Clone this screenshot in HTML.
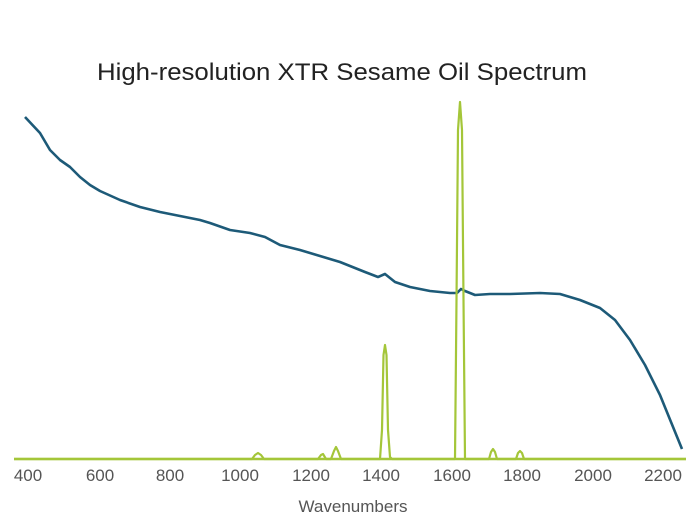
<!DOCTYPE html>
<html><head><meta charset="utf-8"><style>
html,body{margin:0;padding:0;background:#fff;}
svg{display:block;}
text{font-family:"Liberation Sans",sans-serif;}
</style></head><body>
<svg width="700" height="532" viewBox="0 0 700 532" xmlns="http://www.w3.org/2000/svg">
<rect width="700" height="532" fill="#fff"/>
<text x="342" y="80" font-size="24" fill="#222" text-anchor="middle" textLength="490" lengthAdjust="spacingAndGlyphs">High-resolution XTR Sesame Oil Spectrum</text>
<polyline fill="none" stroke="#1d5a78" stroke-width="2.6" stroke-linejoin="round" points="25,117 40,133 50,150 60,160 70,167 80,177 90,185 100,191 120,200 140,207 160,212 180,216 200,220 210,223 230,230 250,233 265,237 280,245 300,250 320,256 340,262 350,266 365,272 378,277 385,274 395,282 410,287 430,291 450,293 457,293 461,289 465,291 475,295 490,294 510,294 540,293 560,294 580,300 600,308 615,320 630,340 645,365 660,395 682,449"/>
<polyline fill="none" stroke="#a4c639" stroke-width="2.2" stroke-linejoin="round" points="14,459 252,459 255,455 258,453 261,455 264,459 318,459 321,455 323,454 326,459 331,459 334,451 336,447 338,451 341,459 380,459 382,430 383.5,355 385,345 386.5,355 388,430 390,457 392,459 455,459 456.5,300 458,130 460,102 462,130 463.5,300 465,459 489,459 491,452 493,449 495,452 497,459 516,459 518,453 520,451 522,453 524,459 686,459"/>
<line x1="14" y1="459" x2="686" y2="459" stroke="#a4c639" stroke-width="2.5"/>
<g font-size="17" fill="#555" text-anchor="middle">
<text x="28" y="481">400</text><text x="100" y="481">600</text><text x="170" y="481">800</text><text x="240" y="481">1000</text><text x="311" y="481">1200</text><text x="381" y="481">1400</text><text x="452" y="481">1600</text><text x="522" y="481">1800</text><text x="593" y="481">2000</text><text x="663" y="481">2200</text>
</g>
<text x="353" y="512" font-size="17" fill="#555" text-anchor="middle">Wavenumbers</text>
</svg>
</body></html>
